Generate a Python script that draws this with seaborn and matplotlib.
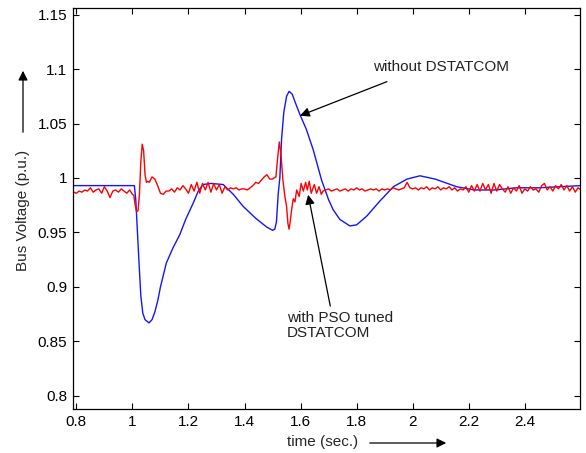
import matplotlib
matplotlib.use("Agg")
import matplotlib.pyplot as plt
import pandas as pd
import seaborn as sns

# Bus voltage without compensation (p.u.)
blue_t = [0.788, 1.000, 1.007, 1.012, 1.018, 1.024, 1.030, 1.037, 1.045, 1.059,
          1.070, 1.080, 1.090, 1.100, 1.121, 1.145, 1.169, 1.190, 1.217, 1.235,
          1.252, 1.280, 1.324, 1.360, 1.395, 1.440, 1.479, 1.500, 1.508, 1.514,
          1.520, 1.526, 1.532, 1.540, 1.550, 1.559, 1.570, 1.580, 1.598, 1.620,
          1.645, 1.675, 1.700, 1.716, 1.740, 1.776, 1.800, 1.836, 1.880, 1.931,
          1.980, 2.026, 2.080, 2.157, 2.220, 2.290, 2.371, 2.450, 2.600]
blue_v = [0.993, 0.993, 0.993, 0.980, 0.950, 0.920, 0.892, 0.876, 0.870, 0.867,
          0.870, 0.877, 0.887, 0.900, 0.922, 0.936, 0.948, 0.962, 0.977, 0.988,
          0.994, 0.995, 0.994, 0.985, 0.974, 0.963, 0.955, 0.952, 0.953, 0.960,
          0.985, 1.000, 1.035, 1.060, 1.075, 1.0795, 1.077, 1.070, 1.058, 1.045,
          1.026, 0.998, 0.980, 0.971, 0.962, 0.956, 0.957, 0.965, 0.978, 0.992,
          0.999, 1.002, 0.999, 0.992, 0.989, 0.989, 0.991, 0.991, 0.993]

# Bus voltage with the PSO tuned DSTATCOM (p.u.)
red_t = [0.79, 0.80, 0.81, 0.82, 0.83, 0.84, 0.85, 0.86, 0.87, 0.88, 0.89,
         0.90, 0.91, 0.92, 0.93, 0.94, 0.95, 0.96, 0.97, 0.98, 0.99, 1.00,
         1.005, 1.010, 1.015, 1.020, 1.025, 1.030, 1.035, 1.040, 1.045, 1.050,
         1.055, 1.060, 1.070, 1.080, 1.090, 1.100, 1.110, 1.120,
         1.13, 1.14, 1.15, 1.16, 1.17, 1.18, 1.19, 1.20, 1.21, 1.22, 1.23,
         1.24, 1.25, 1.26, 1.27, 1.28, 1.29, 1.30, 1.31, 1.32, 1.33, 1.34,
         1.35, 1.36, 1.37, 1.38, 1.39, 1.40, 1.41, 1.42, 1.43, 1.44, 1.45,
         1.46, 1.47, 1.48, 1.49, 1.50,
         1.505, 1.512, 1.518, 1.524, 1.530, 1.537, 1.544, 1.550, 1.555, 1.559,
         1.564, 1.568, 1.574, 1.580, 1.586, 1.595, 1.602, 1.610, 1.618, 1.624,
         1.631, 1.638, 1.649, 1.657, 1.666, 1.674, 1.680,
         1.69, 1.70, 1.71, 1.72, 1.73, 1.74, 1.75, 1.76, 1.77, 1.78, 1.79,
         1.80, 1.81, 1.82, 1.83, 1.84, 1.85, 1.86, 1.87, 1.88, 1.89, 1.90,
         1.91, 1.92, 1.93, 1.94, 1.95, 1.96, 1.97, 1.98, 1.99, 2.00, 2.01,
         2.02, 2.03, 2.04, 2.05, 2.06, 2.07, 2.08, 2.09, 2.10, 2.11, 2.12,
         2.13, 2.14, 2.15, 2.16, 2.17, 2.18, 2.19, 2.20, 2.21, 2.22, 2.23,
         2.24, 2.25, 2.26, 2.27, 2.28, 2.29, 2.30, 2.31, 2.32, 2.33, 2.34,
         2.35, 2.36, 2.37, 2.38, 2.39, 2.40, 2.41, 2.42, 2.43, 2.44, 2.45,
         2.46, 2.47, 2.48, 2.49, 2.50, 2.51, 2.52, 2.53, 2.54, 2.55, 2.56,
         2.57, 2.58, 2.59, 2.60]
red_v = [0.987, 0.986, 0.988, 0.987, 0.989, 0.988, 0.991, 0.987, 0.989, 0.990, 0.986,
         0.992, 0.988, 0.982, 0.988, 0.989, 0.987, 0.990, 0.988, 0.986, 0.989, 0.985,
         0.984, 0.975, 0.969, 0.970, 0.985, 1.015, 1.031, 1.025, 1.003, 0.996,
         0.997, 0.996, 1.001, 0.999, 0.993, 0.986, 0.985, 0.988,
         0.988, 0.990, 0.987, 0.991, 0.989, 0.993, 0.990, 0.986, 0.994, 0.988, 0.996,
         0.986, 0.995, 0.989, 0.996, 0.987, 0.995, 0.989, 0.994, 0.986, 0.992, 0.989,
         0.991, 0.990, 0.991, 0.989, 0.990, 0.990, 0.989, 0.991, 0.993, 0.996, 0.995,
         0.998, 1.001, 1.003, 0.999, 0.999,
         1.000, 1.001, 1.018, 1.033, 1.022, 0.998, 0.983, 0.974, 0.958, 0.953,
         0.962, 0.971, 0.981, 0.978, 0.989, 0.983, 0.995, 0.988, 0.996, 0.989,
         0.997, 0.986, 0.994, 0.986, 0.992, 0.985, 0.988,
         0.989, 0.990, 0.988, 0.989, 0.990, 0.988, 0.989, 0.990, 0.988, 0.990, 0.989,
         0.991, 0.989, 0.990, 0.988, 0.989, 0.990, 0.989, 0.990, 0.988, 0.990, 0.989,
         0.990, 0.989, 0.991, 0.990, 0.989, 0.990, 0.991, 0.996, 0.991, 0.990, 0.991,
         0.989, 0.991, 0.990, 0.992, 0.989, 0.991, 0.990, 0.992, 0.989, 0.991, 0.990,
         0.992, 0.989, 0.991, 0.988, 0.990, 0.989, 0.992, 0.987, 0.993, 0.988, 0.994,
         0.988, 0.995, 0.989, 0.994, 0.986, 0.995, 0.988, 0.994, 0.990, 0.987, 0.992,
         0.986, 0.991, 0.988, 0.993, 0.986, 0.990, 0.988, 0.992, 0.989, 0.990, 0.987,
         0.993, 0.995, 0.989, 0.992, 0.988, 0.993, 0.990, 0.994, 0.989, 0.993, 0.988,
         0.992, 0.987, 0.991, 0.989]

x_ticks = [0.8, 1.0, 1.2, 1.4, 1.6, 1.8, 2.0, 2.2, 2.4]
x_tick_labels = ["0.8", "1", "1.2", "1.4", "1.6", "1.8", "2", "2.2", "2.4"]
y_ticks = [0.80, 0.85, 0.90, 0.95, 1.00, 1.05, 1.10, 1.15]
y_tick_labels = ["0.8", "0.85", "0.9", "0.95", "1", "1.05", "1.1", "1.15"]

sns.set_theme(style="white")
plt.rcParams["font.family"] = ["Liberation Sans", "DejaVu Sans"]
plt.rcParams["xtick.direction"] = "in"
plt.rcParams["ytick.direction"] = "in"

FS = 11
W, H = 586, 453
fig = plt.figure(figsize=(W / 100, H / 100), dpi=100)
fig.patch.set_facecolor("white")
ax = fig.add_axes([73 / W, 1 - 409 / H, (580 - 73) / W, (409 - 8) / H])

df_blue = pd.DataFrame({"t": blue_t, "v": blue_v})
df_red = pd.DataFrame({"t": red_t, "v": red_v})
sns.lineplot(data=df_blue, x="t", y="v", ax=ax, color="#1414ff", lw=1.0,
             estimator=None, sort=False)
sns.lineplot(data=df_red, x="t", y="v", ax=ax, color="#ff0000", lw=1.0,
             estimator=None, sort=False)

ax.set_xlim(0.788, 2.597)
ax.set_ylim(0.788, 1.156)
ax.set_xticks(x_ticks)
ax.set_xticklabels(x_tick_labels, fontsize=FS)
ax.set_yticks(y_ticks)
ax.set_yticklabels(y_tick_labels, fontsize=FS)
ax.set_xlabel("")
ax.set_ylabel("")
ax.tick_params(axis="both", which="both", direction="in", length=4, width=0.8,
               top=True, right=True, bottom=True, left=True, colors="black",
               pad=4)
for sp in ax.spines.values():
    sp.set_visible(True)
    sp.set_color("black")
    sp.set_linewidth(0.9)

arrow_kw = dict(arrowstyle="-|>", color="black", lw=0.9, mutation_scale=14,
                shrinkA=0, shrinkB=0)

ax.annotate("", xy=(1.598, 1.0572), xytext=(1.908, 1.0884),
            arrowprops=arrow_kw)
ax.text(2.101, 1.1022, "without DSTATCOM", fontsize=FS, ha="center",
        va="center", color="#222222")

ax.annotate("", xy=(1.627, 0.9846), xytext=(1.706, 0.8825),
            arrowprops=arrow_kw)
ax.text(1.55, 0.865, "with PSO tuned\nDSTATCOM", fontsize=FS, ha="left",
        va="center", color="#222222", linespacing=1.1)

# axis titles with direction arrows
fig.text(23 / W, 1 - 210 / H, "Bus Voltage (p.u.)", rotation=90,
         fontsize=FS, ha="center", va="center")
fig.add_artist(matplotlib.patches.FancyArrowPatch(
    (23 / W, 1 - 135 / H), (23 / W, 1 - 68 / H), transform=fig.transFigure,
    arrowstyle="-|>", color="black", lw=0.9, mutation_scale=14))
fig.text(323 / W, 1 - 442 / H, "time (sec.)", fontsize=FS, ha="center",
         va="center")
fig.add_artist(matplotlib.patches.FancyArrowPatch(
    (367 / W, 1 - 443 / H), (449 / W, 1 - 443 / H), transform=fig.transFigure,
    arrowstyle="-|>", color="black", lw=0.9, mutation_scale=14))

fig.savefig("out.png", dpi=100, facecolor="white")
